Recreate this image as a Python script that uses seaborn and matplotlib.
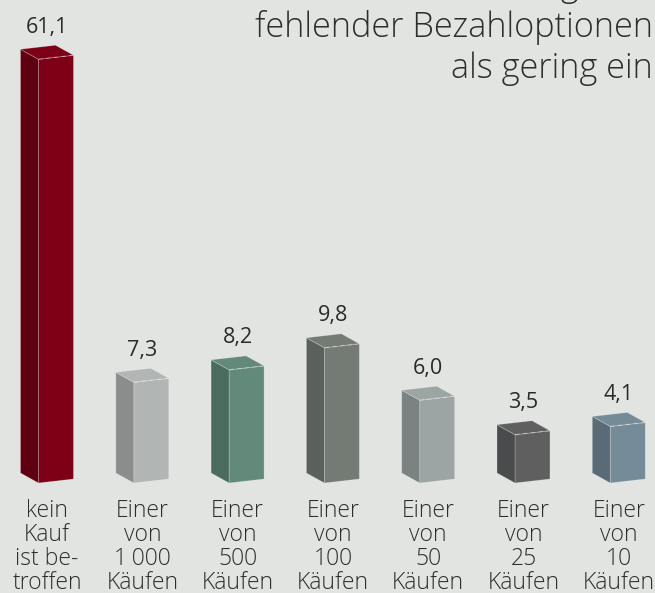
import numpy as np
import pandas as pd
import matplotlib
matplotlib.use("Agg")
import matplotlib.pyplot as plt
from matplotlib.patches import Polygon
from matplotlib.lines import Line2D
from matplotlib.transforms import Affine2D, IdentityTransform
import seaborn as sns

# data
categories = ["kein\nKauf\nist be-\ntroffen", "Einer\nvon\n1\u2009000\nKäufen",
              "Einer\nvon\n500\nKäufen", "Einer\nvon\n100\nKäufen",
              "Einer\nvon\n50\nKäufen", "Einer\nvon\n25\nKäufen",
              "Einer\nvon\n10\nKäufen"]
values = [61.1, 7.3, 8.2, 9.8, 6.0, 3.5, 4.1]
value_labels = ["61,1", "7,3", "8,2", "9,8", "6,0", "3,5", "4,1"]
title_lines = ["aufgrund", "fehlender Bezahloptionen", "als gering ein"]

front_colors = ["#7d0016", "#b1b5b3", "#63897b", "#747a74", "#9ba5a3", "#5f5f60", "#758b97"]
side_colors = ["#5e0011", "#8a8d8b", "#4b6b5f", "#5a605b", "#7a8381", "#4a4b4d", "#5a6b77"]

BG = "#e2e4e1"
DEPTH, RISE, TILT = 18, 10, 4   # pixels for the fake 3d look

# broken value axis so the big first bar fits
T, K = 12.0, 0.381
def fwd(y):
    y = np.asarray(y, dtype=float)
    return np.where(y > T, T + (y - T) * K, y)
def inv(y):
    y = np.asarray(y, dtype=float)
    return np.where(y > T, T + (y - T) / K, y)

sns.set_style("white")
plt.rcParams['font.family'] = ['Open Sans', 'DejaVu Sans']

W, H = 655, 593
fig = plt.figure(figsize=(W / 100, H / 100), dpi=100, facecolor=BG)
ax = fig.add_axes([0, 110 / H, 1, 483 / H])
ax.set_facecolor(BG)

df = pd.DataFrame({"cat": categories, "value": values})
sns.barplot(data=df, x="cat", y="value", hue="cat", palette=front_colors,
            width=0.367, saturation=1, legend=False, ax=ax)

ax.set_yscale("function", functions=(fwd, inv))
ax.set_ylim(0, float(inv(35.0)))
ax.set_xlim(-0.493, 6.380)
for s in ax.spines.values():
    s.set_visible(False)
ax.set_yticks([])
ax.set_xlabel("")
ax.set_ylabel("")
ax.tick_params(axis="x", length=0, pad=11.5)
for lab in ax.get_xticklabels():
    lab.set_fontsize(16.5)
    lab.set_fontweight(300)
    lab.set_color("#2e2e2e")
    lab.set_linespacing(1.0)
    lab.set_multialignment("center")

shift = DEPTH / 2
for i, p in enumerate(ax.patches):
    x0, w, h = p.get_x(), p.get_width(), p.get_height()
    xl, yb = ax.transData.transform((x0, 0))
    xr, yt = ax.transData.transform((x0 + w, h))
    wpx = xr - xl
    # front face: the seaborn bar, sheared a little and moved right
    p.set_transform(ax.transData + Affine2D().translate(-xl, -yb)
                    .skew(0, np.arctan(TILT / wpx)).translate(xl + shift, yb))
    p.set_edgecolor((1, 1, 1, 0.25))
    p.set_linewidth(0.6)
    xl += shift
    xr += shift
    side = [(xl - DEPTH, yb + RISE), (xl, yb), (xl, yt), (xl - DEPTH, yt + RISE)]
    top = [(xl, yt), (xr, yt + TILT), (xr - DEPTH, yt + TILT + RISE), (xl - DEPTH, yt + RISE)]
    ax.add_artist(Polygon(side, closed=True, transform=IdentityTransform(),
                          facecolor=side_colors[i], edgecolor=(1, 1, 1, 0.25), lw=0.6))
    ax.add_artist(Polygon(top, closed=True, transform=IdentityTransform(),
                          facecolor=front_colors[i], edgecolor=(1, 1, 1, 0.25), lw=0.6))
    ax.add_artist(Line2D([xl, xr], [yt, yt + TILT], transform=IdentityTransform(),
                         color=(1, 1, 1, 0.35), lw=0.8, ls=(0, (4, 3))))
    cx = xl - DEPTH + (wpx + DEPTH) / 2
    fig.text(cx / W, (yt + TILT + RISE + 12.5) / H, value_labels[i],
             ha="center", va="baseline", fontsize=15.5, color="#2a2a2a")

for k, line in enumerate(title_lines):
    base = -4 + 41 * k
    fig.text(653 / W, 1 - base / H, line, ha="right", va="baseline",
             fontsize=24.7, fontweight=300, color="#2e2e2e")

fig.savefig("out.png", dpi=100, facecolor=BG)
